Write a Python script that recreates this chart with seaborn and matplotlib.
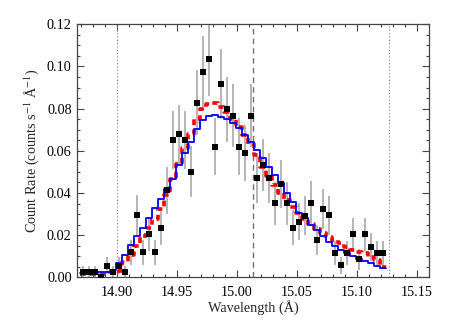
import numpy as np
import pandas as pd
import matplotlib
matplotlib.use("Agg")
import matplotlib.pyplot as plt
import seaborn as sns

# ---------------- data ----------------
bin_start = 14.8715
bin_width = 0.005
wavelength = np.round(bin_start + bin_width * np.arange(51), 4)

observed = [0.0027, 0.0027, 0.0027, 0.0003, 0.0055, 0.0027, 0.0055, 0.0027, 0.0118, 0.0295,
            0.0118, 0.0205, 0.0118, 0.0235, 0.0412, 0.0651, 0.0678, 0.0651, 0.0501, 0.0829,
            0.0975, 0.1035, 0.0620, 0.0917, 0.0797, 0.0767, 0.0620, 0.0590, 0.0767, 0.0471,
            0.0532, 0.0471, 0.0352, 0.0443, 0.0352, 0.0234, 0.0264, 0.0293, 0.0354, 0.0176,
            0.0324, 0.0294, 0.0116, 0.0056, 0.0116, 0.0204, 0.0086, 0.0204, 0.0145, 0.0116,
            0.0116]

obs_err = [0.0028, 0.0028, 0.0028, 0.0025, 0.0040, 0.0028, 0.0040, 0.0028, 0.0058, 0.0093,
           0.0058, 0.0078, 0.0058, 0.0083, 0.0110, 0.0138, 0.0141, 0.0138, 0.0121, 0.0156,
           0.0169, 0.0175, 0.0135, 0.0164, 0.0153, 0.0150, 0.0135, 0.0131, 0.0150, 0.0118,
           0.0125, 0.0118, 0.0102, 0.0114, 0.0102, 0.0083, 0.0088, 0.0093, 0.0102, 0.0072,
           0.0097, 0.0093, 0.0058, 0.0040, 0.0058, 0.0078, 0.0050, 0.0078, 0.0066, 0.0058,
           0.0058]

model_blue = [0.0022, 0.0022, 0.0022, 0.0023, 0.0025, 0.0035, 0.0066, 0.0106, 0.0153, 0.0196,
              0.0235, 0.0280, 0.0327, 0.0371, 0.0418, 0.0465, 0.0533, 0.0588, 0.0643, 0.0703,
              0.0746, 0.0764, 0.0771, 0.0762, 0.0749, 0.0732, 0.0708, 0.0675, 0.0643, 0.0606,
              0.0565, 0.0525, 0.0485, 0.0446, 0.0398, 0.0357, 0.0307, 0.0279, 0.0248, 0.0224,
              0.0196, 0.0169, 0.0148, 0.0130, 0.0114, 0.0101, 0.0085, 0.0077, 0.0066, 0.0055,
              0.0043]

model_red = [0.0016, 0.0016, 0.0016, 0.0016, 0.0018, 0.0020, 0.0030, 0.0071, 0.0108, 0.0149,
             0.0194, 0.0233, 0.0277, 0.0326, 0.0390, 0.0464, 0.0537, 0.0611, 0.0680, 0.0751,
             0.0797, 0.0822, 0.0825, 0.0809, 0.0786, 0.0749, 0.0714, 0.0675, 0.0633, 0.0581,
             0.0522, 0.0480, 0.0438, 0.0399, 0.0367, 0.0335, 0.0307, 0.0277, 0.0253, 0.0228,
             0.0208, 0.0189, 0.0177, 0.0161, 0.0144, 0.0130, 0.0122, 0.0114, 0.0096, 0.0081,
             0.0047]

line_center = 15.0135
window_lo, window_hi = 14.9002, 15.1268
x_range = (14.8668, 15.1602)
y_range = (0.0, 0.12)

x_ticks = [14.90, 14.95, 15.00, 15.05, 15.10, 15.15]
y_ticks = [0.00, 0.02, 0.04, 0.06, 0.08, 0.10, 0.12]

# ---------------- style ----------------
sns.set_style("ticks")
plt.rcParams["font.family"] = ["Liberation Serif", "DejaVu Serif"]
plt.rcParams["mathtext.fontset"] = "stix"

df = pd.DataFrame({"wl": wavelength, "obs": observed, "err": obs_err,
                   "blue": model_blue, "red": model_red})

# step edges (bins)
edges = np.append(df["wl"].values - bin_width / 2, df["wl"].values[-1] + bin_width / 2)
step_df = pd.DataFrame({
    "edge": edges,
    "blue": np.append(df["blue"].values, df["blue"].values[-1]),
    "red": np.append(df["red"].values, df["red"].values[-1]),
})

fig = plt.figure(figsize=(4.53, 3.27), dpi=100)
ax = fig.add_axes([0.1706, 0.152, 0.9477 - 0.1706, 0.9257 - 0.152])

# reference lines
ax.axvline(window_lo, color="#808080", lw=0.8, ls=(0, (1, 2)), zorder=1)
ax.axvline(window_hi, color="#808080", lw=0.8, ls=(0, (1, 2)), zorder=1)
ax.axvline(line_center, color="#707070", lw=1.0, ls=(0, (4, 3)), zorder=1)

# error bars
ax.errorbar(df["wl"], df["obs"], yerr=df["err"], fmt="none", ecolor="#a0a0a0",
            elinewidth=1.1, capsize=0, zorder=2)

# models
sns.lineplot(data=step_df, x="edge", y="blue", ax=ax, color="blue", lw=1.3,
             drawstyle="steps-post", estimator=None, sort=False, zorder=4)
sns.lineplot(data=step_df, x="edge", y="red", ax=ax, color="red", lw=2.6,
             drawstyle="steps-post", estimator=None, sort=False, zorder=3,
             dashes=False, linestyle=(0, (1.6, 1.2)))

# data points
sns.scatterplot(data=df, x="wl", y="obs", ax=ax, marker="s", s=17, color="black",
                edgecolor="black", linewidth=0, zorder=5)

ax.set_xlim(*x_range)
ax.set_ylim(*y_range)
ax.set_xticks(x_ticks)
ax.set_yticks(y_ticks)
ax.set_xticklabels([f"{v:.2f}" for v in x_ticks])
ax.set_yticklabels([f"{v:.2f}" for v in y_ticks])
ax.xaxis.set_minor_locator(matplotlib.ticker.MultipleLocator(0.01))
ax.yaxis.set_minor_locator(matplotlib.ticker.MultipleLocator(0.005))

ax.tick_params(which="both", direction="in", top=True, right=True, colors="#444444",
               labelcolor="black", labelsize=10.3)
ax.tick_params(which="major", length=5, width=0.8)
ax.tick_params(which="minor", length=2.5, width=0.8)
ax.tick_params(axis="x", pad=6)
ax.tick_params(axis="y", pad=4)
for sp in ax.spines.values():
    sp.set_color("#444444")
    sp.set_linewidth(0.9)

ax.set_xlabel("Wavelength (Å)", fontsize=10.3, labelpad=1)
ax.set_ylabel(r"Count Rate (counts s$^{-1}$ Å$^{-1}$)", fontsize=10.3, labelpad=4)

fig.savefig("out.png", dpi=100)
